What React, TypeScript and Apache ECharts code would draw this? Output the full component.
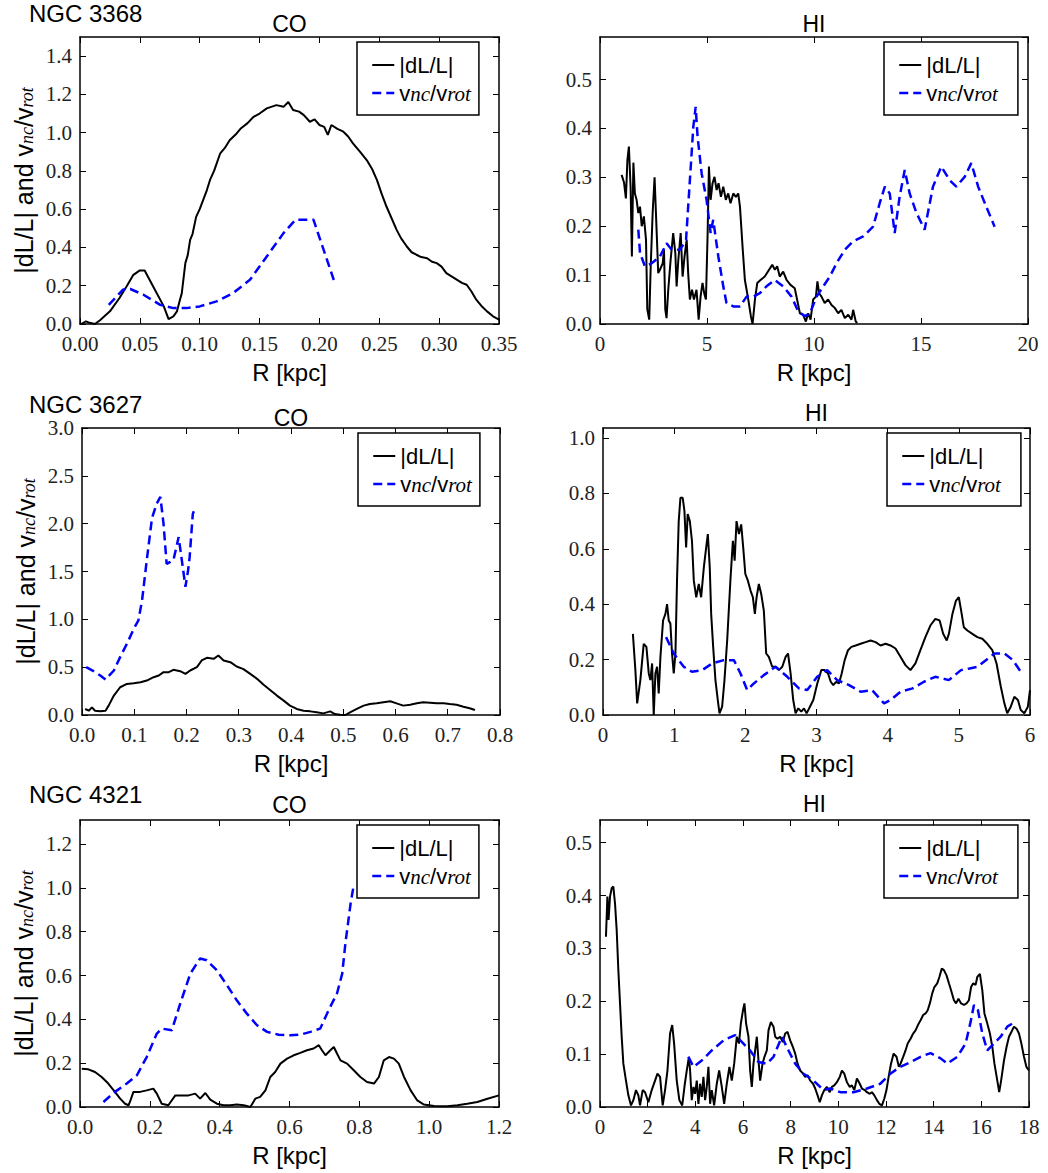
import React, { useEffect, useRef } from "react";
import * as echarts from "echarts";

const SANS = "Liberation Sans";
const SERIF = "Liberation Serif";

const NAME_DL = "|dL/L|";
const NAME_V = "vnc/vrot";

// ---------- NGC 3368, CO ----------
const n3368CoDl: [number, number][] = [
  [0.001, 0], [0.005, 0.014], [0.008, 0.006], [0.0125, 0.0], [0.0167, 0.02], [0.025, 0.066],
  [0.033, 0.136], [0.039, 0.197], [0.0446, 0.257], [0.05, 0.28], [0.054, 0.28], [0.061, 0.197],
  [0.07, 0.092], [0.074, 0.026], [0.078, 0.04], [0.081, 0.066], [0.0835, 0.127], [0.085, 0.16],
  [0.088, 0.318], [0.09, 0.36], [0.092, 0.44], [0.094, 0.47], [0.097, 0.56], [0.1, 0.6], [0.103, 0.65],
  [0.106, 0.7], [0.1086, 0.753], [0.112, 0.8], [0.117, 0.89], [0.121, 0.92], [0.125, 0.96], [0.13, 0.99],
  [0.134, 1.02], [0.14, 1.05], [0.145, 1.083], [0.15, 1.1], [0.156, 1.127], [0.164, 1.144], [0.17, 1.135],
  [0.174, 1.16], [0.178, 1.118], [0.183, 1.11], [0.187, 1.092], [0.192, 1.057], [0.196, 1.07], [0.2, 1.04],
  [0.204, 1.03], [0.207, 0.988], [0.21, 1.04], [0.215, 1.02], [0.22, 1.005], [0.224, 0.98], [0.228, 0.944],
  [0.234, 0.9], [0.2395, 0.857], [0.244, 0.81], [0.248, 0.753], [0.252, 0.68], [0.256, 0.614],
  [0.2645, 0.492], [0.268, 0.45], [0.273, 0.405], [0.277, 0.375], [0.281, 0.362], [0.285, 0.35],
  [0.29, 0.344], [0.294, 0.325], [0.298, 0.318], [0.302, 0.3], [0.306, 0.266], [0.31, 0.25],
  [0.315, 0.231], [0.319, 0.215], [0.323, 0.205], [0.327, 0.17], [0.331, 0.127], [0.336, 0.09],
  [0.34, 0.066], [0.345, 0.04], [0.35, 0.023]
];
const n3368CoV: [number, number][] = [
  [0.024, 0.1], [0.036, 0.18], [0.042, 0.183], [0.053, 0.153], [0.067, 0.1], [0.078, 0.083],
  [0.089, 0.083], [0.1, 0.092], [0.114, 0.118], [0.128, 0.162], [0.142, 0.231], [0.156, 0.353],
  [0.17, 0.475], [0.18, 0.545], [0.195, 0.545], [0.212, 0.23]
];

// ---------- NGC 3368, HI ----------
const n3368HiDl: [number, number][] = [
  [1.01, 0.305], [1.12, 0.29], [1.21, 0.257], [1.28, 0.335], [1.35, 0.363], [1.43, 0.28], [1.49, 0.138],
  [1.56, 0.33], [1.63, 0.267], [1.71, 0.254], [1.79, 0.227], [1.87, 0.24], [1.95, 0.2], [2.05, 0.22],
  [2.15, 0.172], [2.21, 0.03], [2.3, 0.009], [2.37, 0.118], [2.46, 0.227], [2.55, 0.3], [2.65, 0.186],
  [2.72, 0.104], [2.8, 0.111], [2.93, 0.124], [2.99, 0.152], [3.05, 0.03], [3.11, 0.012], [3.19, 0.07],
  [3.3, 0.131], [3.42, 0.186], [3.52, 0.145], [3.58, 0.077], [3.66, 0.131], [3.77, 0.186], [3.86, 0.097],
  [3.95, 0.138], [4.05, 0.172], [4.12, 0.104], [4.2, 0.05], [4.3, 0.07], [4.39, 0.05], [4.51, 0.07],
  [4.61, 0.009], [4.7, 0.056], [4.79, 0.084], [4.87, 0.063], [4.95, 0.05], [5.03, 0.186], [5.09, 0.322],
  [5.17, 0.254], [5.26, 0.288], [5.35, 0.301], [5.45, 0.274], [5.54, 0.288], [5.65, 0.26], [5.76, 0.281],
  [5.88, 0.254], [5.99, 0.267], [6.1, 0.247], [6.23, 0.267], [6.35, 0.26], [6.46, 0.267], [6.54, 0.24],
  [6.66, 0.159], [6.77, 0.09], [6.93, 0.05], [7.05, 0.016], [7.13, 0], [7.24, 0.05], [7.35, 0.084],
  [7.5, 0.09], [7.7, 0.097], [7.9, 0.111], [8.05, 0.121], [8.17, 0.111], [8.28, 0.118], [8.4, 0.097],
  [8.56, 0.107], [8.72, 0.09], [8.9, 0.08], [9.1, 0.073], [9.21, 0.05], [9.34, 0.022], [9.49, 0.019],
  [9.62, 0.005], [9.73, 0.022], [9.84, 0.009], [9.96, 0.05], [10.09, 0.056], [10.16, 0.087],
  [10.24, 0.063], [10.35, 0.056], [10.5, 0.043], [10.66, 0.05], [10.82, 0.039], [10.97, 0.033],
  [11.13, 0.022], [11.28, 0.029], [11.44, 0.012], [11.6, 0.019], [11.75, 0.009], [11.83, 0.029],
  [11.95, 0.005], [12.02, 0.002]
];
const n3368HiV: [number, number][] = [
  [1.79, 0.193], [1.87, 0.145], [2.1, 0.118], [2.41, 0.124], [2.8, 0.138], [3.11, 0.165], [3.35, 0.152],
  [3.74, 0.152], [4.02, 0.172], [4.2, 0.294], [4.36, 0.403], [4.47, 0.444], [4.56, 0.383], [4.75, 0.308],
  [4.98, 0.254], [5.17, 0.186], [5.29, 0.213], [5.53, 0.138], [5.76, 0.077], [5.91, 0.043], [6.23, 0.036],
  [6.54, 0.036], [6.85, 0.056], [7.16, 0.056], [7.47, 0.063], [7.78, 0.077], [8.17, 0.09], [8.56, 0.077],
  [8.95, 0.056], [9.26, 0.026], [9.57, 0.016], [9.81, 0.022], [10.12, 0.056], [10.43, 0.077],
  [10.74, 0.097], [11.05, 0.124], [11.44, 0.152], [11.83, 0.169], [12.3, 0.179], [12.76, 0.199],
  [13.07, 0.247], [13.31, 0.281], [13.54, 0.267], [13.77, 0.186], [14.0, 0.26], [14.24, 0.315],
  [14.47, 0.267], [14.79, 0.227], [15.17, 0.193], [15.56, 0.281], [15.95, 0.322], [16.34, 0.294],
  [16.65, 0.281], [17.04, 0.301], [17.35, 0.329], [17.67, 0.281], [18.05, 0.24], [18.44, 0.199]
];

// ---------- NGC 3627, CO ----------
const n3627CoDl: [number, number][] = [
  [0.006, 0.063], [0.013, 0.045], [0.019, 0.08], [0.025, 0.045], [0.035, 0.038], [0.045, 0.045],
  [0.051, 0.098], [0.061, 0.203], [0.073, 0.29], [0.086, 0.325], [0.099, 0.332], [0.112, 0.343],
  [0.124, 0.36], [0.137, 0.395], [0.147, 0.413], [0.156, 0.448], [0.166, 0.448], [0.175, 0.472],
  [0.188, 0.458], [0.198, 0.43], [0.207, 0.465], [0.22, 0.5], [0.229, 0.57], [0.239, 0.598],
  [0.252, 0.587], [0.261, 0.622], [0.271, 0.57], [0.284, 0.552], [0.296, 0.507], [0.309, 0.479],
  [0.322, 0.43], [0.335, 0.378], [0.347, 0.318], [0.36, 0.262], [0.373, 0.203], [0.386, 0.15],
  [0.398, 0.098], [0.411, 0.063], [0.424, 0.045], [0.437, 0.038], [0.449, 0.028], [0.462, 0.017],
  [0.475, 0.038], [0.484, 0.01], [0.494, 0.003], [0.504, 0], [0.513, 0.028], [0.526, 0.063],
  [0.539, 0.098], [0.551, 0.115], [0.564, 0.122], [0.577, 0.133], [0.59, 0.143], [0.602, 0.122],
  [0.615, 0.098], [0.628, 0.108], [0.641, 0.122], [0.653, 0.133], [0.666, 0.129], [0.679, 0.122],
  [0.692, 0.122], [0.704, 0.115], [0.717, 0.108], [0.73, 0.087], [0.742, 0.07], [0.752, 0.052]
];
const n3627CoV: [number, number][] = [
  [0.008, 0.5], [0.022, 0.458], [0.035, 0.413], [0.045, 0.37], [0.061, 0.465], [0.073, 0.605],
  [0.086, 0.745], [0.099, 0.9], [0.108, 0.99], [0.115, 1.2], [0.124, 1.62], [0.134, 2.06], [0.143, 2.21],
  [0.15, 2.28], [0.156, 2.0], [0.162, 1.58], [0.169, 1.6], [0.175, 1.62], [0.185, 1.86], [0.191, 1.62],
  [0.198, 1.34], [0.203, 1.51], [0.206, 1.65], [0.212, 2.1], [0.214, 2.13]
];

// ---------- NGC 3627, HI ----------
const n3627HiDl: [number, number][] = [
  [0.42, 0.293], [0.455, 0.162], [0.48, 0.042], [0.525, 0.126], [0.572, 0.257], [0.61, 0.246],
  [0.643, 0.15], [0.666, 0.126], [0.69, 0.186], [0.713, 0], [0.736, 0.15], [0.76, 0.174], [0.783, 0.078],
  [0.807, 0.21], [0.844, 0.341], [0.877, 0.365], [0.9, 0.4], [0.924, 0.341], [0.947, 0.33], [0.97, 0.222],
  [0.994, 0.15], [1.018, 0.222], [1.04, 0.485], [1.064, 0.7], [1.088, 0.784], [1.12, 0.784], [1.144, 0.737],
  [1.168, 0.605], [1.19, 0.725], [1.22, 0.7], [1.25, 0.629], [1.276, 0.485], [1.31, 0.425], [1.346, 0.473],
  [1.379, 0.425], [1.417, 0.533], [1.45, 0.605], [1.473, 0.653], [1.5, 0.533], [1.52, 0.365],
  [1.548, 0.246], [1.58, 0.126], [1.613, 0.054], [1.637, 0.006], [1.674, 0.03], [1.707, 0.126],
  [1.745, 0.27], [1.79, 0.485], [1.825, 0.629], [1.85, 0.557], [1.876, 0.7], [1.91, 0.653], [1.942, 0.688],
  [1.97, 0.605], [2.0, 0.509], [2.036, 0.485], [2.073, 0.449], [2.106, 0.425], [2.134, 0.365],
  [2.158, 0.425], [2.19, 0.473], [2.223, 0.437], [2.26, 0.377], [2.293, 0.222], [2.33, 0.21],
  [2.378, 0.174], [2.425, 0.174], [2.472, 0.162], [2.519, 0.174], [2.566, 0.21], [2.6, 0.222],
  [2.636, 0.15], [2.673, 0.054], [2.706, 0.006], [2.744, 0.024], [2.786, 0.012], [2.824, 0.024],
  [2.861, 0.006], [2.908, 0.03], [2.955, 0.054], [3.011, 0.114], [3.068, 0.162], [3.115, 0.162],
  [3.162, 0.15], [3.2, 0.12], [3.236, 0.108], [3.274, 0.12], [3.316, 0.114], [3.354, 0.15],
  [3.396, 0.198], [3.443, 0.234], [3.49, 0.246], [3.55, 0.251], [3.62, 0.257], [3.69, 0.263],
  [3.76, 0.269], [3.83, 0.263], [3.9, 0.251], [3.97, 0.257], [4.04, 0.251], [4.11, 0.24], [4.18, 0.21],
  [4.25, 0.18], [4.32, 0.162], [4.39, 0.186], [4.46, 0.234], [4.53, 0.281], [4.6, 0.323], [4.67, 0.347],
  [4.73, 0.341], [4.78, 0.293], [4.83, 0.269], [4.86, 0.293], [4.91, 0.365], [4.96, 0.413], [5.0, 0.425],
  [5.04, 0.365], [5.07, 0.317], [5.12, 0.305], [5.19, 0.293], [5.26, 0.281], [5.33, 0.275], [5.4, 0.257],
  [5.47, 0.234], [5.53, 0.186], [5.59, 0.102], [5.64, 0.042], [5.68, 0.006], [5.73, 0.03], [5.78, 0.066],
  [5.83, 0.054], [5.87, 0.018], [5.92, 0.006], [5.97, 0.03], [6.0, 0.09]
];
const n3627HiV: [number, number][] = [
  [0.886, 0.281], [0.994, 0.222], [1.135, 0.174], [1.25, 0.156], [1.393, 0.162], [1.534, 0.186],
  [1.698, 0.198], [1.839, 0.198], [1.932, 0.15], [2.026, 0.09], [2.12, 0.114], [2.26, 0.144],
  [2.425, 0.174], [2.59, 0.138], [2.753, 0.096], [2.87, 0.09], [3.01, 0.138], [3.15, 0.162], [3.29, 0.126],
  [3.457, 0.108], [3.62, 0.084], [3.78, 0.09], [3.95, 0.042], [4.04, 0.054], [4.18, 0.084], [4.35, 0.096],
  [4.51, 0.12], [4.67, 0.138], [4.86, 0.126], [5.03, 0.162], [5.15, 0.168], [5.26, 0.174], [5.38, 0.198],
  [5.5, 0.222], [5.64, 0.222], [5.76, 0.198], [5.87, 0.156]
];

// ---------- NGC 4321, CO ----------
const n4321CoDl: [number, number][] = [
  [0.005, 0.175], [0.024, 0.172], [0.043, 0.16], [0.062, 0.137], [0.081, 0.107], [0.1, 0.069],
  [0.115, 0.038], [0.129, 0.015], [0.139, 0.008], [0.143, 0.023], [0.153, 0.069], [0.172, 0.069],
  [0.191, 0.076], [0.21, 0.084], [0.22, 0.061], [0.234, 0.015], [0.253, 0.008], [0.273, 0.053],
  [0.292, 0.053], [0.311, 0.053], [0.33, 0.061], [0.344, 0.038], [0.359, 0.064], [0.373, 0.034],
  [0.392, 0.015], [0.411, 0.008], [0.43, 0.008], [0.449, 0.011], [0.469, 0.008], [0.488, 0],
  [0.502, 0.038], [0.516, 0.046], [0.531, 0.076], [0.545, 0.137], [0.559, 0.16], [0.574, 0.198],
  [0.593, 0.221], [0.612, 0.236], [0.631, 0.247], [0.65, 0.259], [0.669, 0.267], [0.684, 0.282],
  [0.693, 0.259], [0.703, 0.236], [0.717, 0.259], [0.727, 0.274], [0.736, 0.244], [0.746, 0.213],
  [0.765, 0.198], [0.784, 0.168], [0.803, 0.137], [0.822, 0.114], [0.842, 0.107], [0.856, 0.137],
  [0.87, 0.213], [0.885, 0.228], [0.899, 0.221], [0.913, 0.198], [0.928, 0.137], [0.947, 0.076],
  [0.966, 0.03], [0.985, 0.011], [1.014, 0.005], [1.052, 0.003], [1.081, 0.008], [1.109, 0.015],
  [1.138, 0.023], [1.167, 0.038], [1.2, 0.053]
];
const n4321CoV: [number, number][] = [
  [0.067, 0.023], [0.1, 0.069], [0.134, 0.107], [0.163, 0.145], [0.191, 0.228], [0.22, 0.335],
  [0.234, 0.358], [0.263, 0.35], [0.287, 0.472], [0.316, 0.609], [0.344, 0.678], [0.363, 0.67],
  [0.392, 0.624], [0.421, 0.556], [0.449, 0.487], [0.478, 0.426], [0.507, 0.373], [0.536, 0.343],
  [0.569, 0.33], [0.602, 0.327], [0.631, 0.33], [0.66, 0.343], [0.688, 0.358], [0.712, 0.442],
  [0.736, 0.518], [0.751, 0.609], [0.76, 0.746], [0.775, 0.929], [0.784, 1.013]
];

// ---------- NGC 4321, HI ----------
const n4321HiDl: [number, number][] = [
  [0.25, 0.322], [0.31, 0.398], [0.36, 0.354], [0.42, 0.398], [0.49, 0.414], [0.56, 0.417], [0.63, 0.385],
  [0.7, 0.335], [0.77, 0.259], [0.84, 0.196], [0.91, 0.133], [0.98, 0.082], [1.09, 0.05], [1.19, 0.022],
  [1.3, 0.003], [1.4, 0.013], [1.51, 0.032], [1.61, 0.022], [1.68, 0.003], [1.79, 0.032], [1.89, 0.028],
  [2.03, 0.009], [2.17, 0.032], [2.31, 0.05], [2.41, 0.063], [2.52, 0.057], [2.63, 0.003], [2.73, 0.032],
  [2.83, 0.069], [2.94, 0.139], [3.03, 0.155], [3.11, 0.12], [3.22, 0.05], [3.33, 0.013], [3.45, 0.003],
  [3.56, 0.044], [3.64, 0.069], [3.73, 0.095], [3.78, 0.069], [3.85, 0.013], [3.92, 0.038], [3.99, 0.025],
  [4.06, 0.05], [4.13, 0.006], [4.2, 0.044], [4.27, 0.019], [4.34, 0.057], [4.41, 0.013], [4.48, 0.038],
  [4.55, 0.076], [4.62, 0.006], [4.69, 0.032], [4.79, 0.003], [4.9, 0.044], [5.0, 0.069], [5.11, 0.038],
  [5.21, 0.006], [5.32, 0.044], [5.43, 0.076], [5.53, 0.05], [5.63, 0.082], [5.74, 0.133], [5.83, 0.12],
  [5.91, 0.158], [6.0, 0.183], [6.06, 0.196], [6.13, 0.158], [6.23, 0.133], [6.3, 0.069], [6.37, 0.038],
  [6.44, 0.082], [6.51, 0.107], [6.58, 0.133], [6.65, 0.088], [6.72, 0.05], [6.82, 0.082], [6.9, 0.095],
  [7.0, 0.107], [7.07, 0.145], [7.17, 0.161], [7.28, 0.152], [7.35, 0.133], [7.45, 0.129], [7.56, 0.133],
  [7.67, 0.123], [7.77, 0.139], [7.87, 0.142], [7.98, 0.126], [8.09, 0.114], [8.19, 0.101], [8.29, 0.082],
  [8.4, 0.069], [8.52, 0.063], [8.61, 0.057], [8.71, 0.06], [8.82, 0.05], [8.94, 0.044], [9.03, 0.035],
  [9.13, 0.022], [9.22, 0.009], [9.31, 0.022], [9.41, 0.032], [9.52, 0.038], [9.64, 0.028], [9.73, 0.038],
  [9.83, 0.041], [9.94, 0.047], [10.06, 0.057], [10.15, 0.069], [10.25, 0.063], [10.36, 0.047],
  [10.48, 0.038], [10.57, 0.041], [10.67, 0.032], [10.78, 0.054], [10.9, 0.044], [10.99, 0.035],
  [11.11, 0.032], [11.2, 0.028], [11.32, 0.025], [11.41, 0.028], [11.51, 0.022], [11.62, 0.013],
  [11.72, 0.006], [11.83, 0.003], [11.93, 0.016], [12.02, 0.032], [12.11, 0.057], [12.21, 0.082],
  [12.32, 0.101], [12.44, 0.095], [12.54, 0.076], [12.61, 0.082], [12.72, 0.095], [12.82, 0.107],
  [12.91, 0.12], [13.03, 0.129], [13.14, 0.139], [13.24, 0.145], [13.34, 0.155], [13.45, 0.164],
  [13.56, 0.174], [13.66, 0.177], [13.75, 0.183], [13.84, 0.196], [13.94, 0.215], [14.03, 0.227],
  [14.15, 0.234], [14.24, 0.246], [14.34, 0.262], [14.43, 0.259], [14.54, 0.249], [14.64, 0.234],
  [14.73, 0.221], [14.85, 0.202], [14.94, 0.196], [15.04, 0.205], [15.15, 0.196], [15.27, 0.193],
  [15.38, 0.196], [15.48, 0.202], [15.57, 0.227], [15.66, 0.234], [15.76, 0.231], [15.83, 0.246],
  [15.94, 0.252], [16.04, 0.221], [16.13, 0.177], [16.25, 0.158], [16.36, 0.139], [16.46, 0.114],
  [16.55, 0.082], [16.67, 0.05], [16.75, 0.028], [16.83, 0.05], [16.95, 0.088], [17.06, 0.114],
  [17.16, 0.133], [17.26, 0.142], [17.37, 0.152], [17.48, 0.148], [17.58, 0.139], [17.68, 0.12],
  [17.79, 0.095], [17.89, 0.076], [18.0, 0.069]
];
const n4321HiV: [number, number][] = [
  [3.71, 0.095], [3.92, 0.076], [4.27, 0.088], [4.69, 0.107], [5.18, 0.126], [5.67, 0.136], [5.95, 0.123],
  [6.3, 0.107], [6.65, 0.085], [7.0, 0.082], [7.28, 0.095], [7.63, 0.133], [7.91, 0.107], [8.19, 0.082],
  [8.54, 0.063], [8.96, 0.05], [9.38, 0.032], [9.66, 0.035], [10.08, 0.028], [10.64, 0.028], [11.2, 0.035],
  [11.76, 0.044], [12.18, 0.063], [12.6, 0.076], [13.03, 0.085], [13.45, 0.095], [13.87, 0.102],
  [14.29, 0.092], [14.57, 0.082], [14.99, 0.095], [15.34, 0.12], [15.55, 0.161], [15.69, 0.193],
  [15.86, 0.183], [16.04, 0.139], [16.25, 0.107], [16.53, 0.12], [16.81, 0.133], [17.09, 0.152],
  [17.3, 0.158]
];

// axis settings per panel
const galaxyNames = ["NGC 3368", "NGC 3627", "NGC 4321"];
const tracerNames = ["CO", "HI"];
const xMaxes = [0.35, 20, 0.8, 6, 1.2, 18];
const xSteps = [0.05, 5, 0.1, 1, 0.2, 2];
const xDecimals = [2, 0, 1, 0, 1, 0];
const yMaxes = [1.5, 0.587, 3.0, 1.036, 1.31, 0.543];
const ySteps = [0.2, 0.1, 0.5, 0.2, 0.2, 0.1];
const dlSeries = [n3368CoDl, n3368HiDl, n3627CoDl, n3627HiDl, n4321CoDl, n4321HiDl];
const vSeries = [n3368CoV, n3368HiV, n3627CoV, n3627HiV, n4321CoV, n4321HiV];

// layout (pixels)
const grids = [
  { left: 80, top: 37, width: 419, height: 287 },
  { left: 600, top: 37, width: 428, height: 287 },
  { left: 82, top: 428, width: 418, height: 287 },
  { left: 603, top: 428, width: 427, height: 287 },
  { left: 80, top: 820, width: 419, height: 287 },
  { left: 600, top: 820, width: 429, height: 287 }
];
const legendPos = [
  { left: 357, top: 42 },
  { left: 884, top: 42 },
  { left: 358, top: 433 },
  { left: 887, top: 433 },
  { left: 357, top: 825 },
  { left: 884, top: 825 }
];
const galaxyTitlePos = [{ x: 29, y: 13 }, { x: 29, y: 404 }, { x: 29, y: 794 }];
const tracerTitleY = [24, 24, 418, 413, 805, 804];

function buildOption() {
  const xAxis: any[] = [];
  const yAxis: any[] = [];
  const series: any[] = [];
  const legend: any[] = [];
  const graphic: any[] = [];

  const axisLine = { show: true, onZero: false, lineStyle: { color: "#000", width: 1.5 } };
  const axisTick = { show: true, inside: true, length: 6, lineStyle: { color: "#000", width: 1 } };

  grids.forEach((g, i) => {
    const dec = xDecimals[i];
    const common = { type: "value", gridIndex: i, splitLine: { show: false }, axisLine, axisTick };
    xAxis.push({
      ...common,
      position: "bottom",
      min: 0,
      max: xMaxes[i],
      interval: xSteps[i],
      axisLabel: {
        fontFamily: SERIF, fontSize: 21, color: "#222", margin: 9,
        formatter: (v: number) => v.toFixed(dec)
      },
      name: "R [kpc]",
      nameLocation: "middle",
      nameGap: 36,
      nameTextStyle: { fontFamily: SANS, fontSize: 24, color: "#000" }
    });
    xAxis.push({
      ...common,
      position: "top",
      min: 0,
      max: xMaxes[i],
      interval: xSteps[i],
      axisLabel: { show: false }
    });
    const yLeft: any = {
      ...common,
      position: "left",
      min: 0,
      max: yMaxes[i],
      interval: ySteps[i],
      axisLabel: {
        fontFamily: SERIF, fontSize: 21, color: "#222", margin: 8,
        showMaxLabel: i === 2,
        formatter: (v: number) => v.toFixed(1)
      }
    };
    if (i % 2 === 0) {
      yLeft.name = "|dL/L| and v{s|nc}/v{s|rot}";
      yLeft.nameLocation = "middle";
      yLeft.nameRotate = 90;
      yLeft.nameGap = 44;
      yLeft.nameTextStyle = {
        fontFamily: SANS, fontSize: 25, color: "#000",
        rich: { s: { fontFamily: SERIF, fontStyle: "italic", fontSize: 18, color: "#000", verticalAlign: "bottom" } }
      };
    }
    yAxis.push(yLeft);
    yAxis.push({
      ...common,
      position: "right",
      min: 0,
      max: yMaxes[i],
      interval: ySteps[i],
      axisLabel: { show: false }
    });

    series.push({
      type: "line",
      name: NAME_DL,
      xAxisIndex: 2 * i,
      yAxisIndex: 2 * i,
      data: dlSeries[i],
      symbol: "none",
      showSymbol: false,
      lineStyle: { color: "#000", width: 2, type: "solid" },
      itemStyle: { color: "#000" },
      z: 2
    });
    series.push({
      type: "line",
      name: NAME_V,
      xAxisIndex: 2 * i,
      yAxisIndex: 2 * i,
      data: vSeries[i],
      symbol: "none",
      showSymbol: false,
      lineStyle: { color: "#0000ff", width: 2.5, type: [9, 5] },
      itemStyle: { color: "#0000ff" },
      z: 3
    });

    const isHI = i % 2 === 1;
    legend.push({
      data: [NAME_DL, NAME_V],
      orient: "vertical",
      left: legendPos[i].left,
      top: legendPos[i].top,
      backgroundColor: "#fff",
      borderColor: "#000",
      borderWidth: 1.5,
      borderRadius: 0,
      padding: [12, isHI ? 20 : 8, 11, 14],
      itemGap: 6,
      itemWidth: 22,
      itemHeight: 14,
      selectedMode: false,
      itemStyle: { opacity: 0 },
      lineStyle: { width: "inherit" },
      textStyle: {
        fontFamily: SANS, fontSize: 22, color: "#000",
        rich: { s: { fontFamily: SERIF, fontStyle: "italic", fontSize: 21, color: "#000", verticalAlign: "bottom" } }
      },
      formatter: (name: string) => (name === NAME_DL ? "|dL/L|" : "v{s|nc}/v{s|rot}"),
      z: 10
    });

    graphic.push({
      type: "text",
      x: g.left + g.width / 2,
      y: tracerTitleY[i],
      style: {
        text: tracerNames[i % 2],
        fontFamily: SANS, fontSize: 23, fill: "#000",
        align: "center", verticalAlign: "middle"
      }
    });
  });

  galaxyNames.forEach((name, r) => {
    graphic.push({
      type: "text",
      x: galaxyTitlePos[r].x,
      y: galaxyTitlePos[r].y,
      style: {
        text: name,
        fontFamily: SANS, fontSize: 24, fill: "#000",
        align: "left", verticalAlign: "middle"
      }
    });
  });

  return {
    animation: false,
    backgroundColor: "#fff",
    grid: grids.map((g) => ({ ...g, containLabel: false })),
    xAxis,
    yAxis,
    series,
    legend,
    graphic
  };
}

export default function App() {
  const ref = useRef<HTMLDivElement>(null);
  useEffect(() => {
    if (!ref.current) return;
    const chart = echarts.init(ref.current, undefined, { renderer: "svg" });
    chart.setOption(buildOption() as any);
    return () => chart.dispose();
  }, []);
  return (
    <div
      ref={ref}
      style={{ position: "absolute", left: 0, top: 0, width: 1048, height: 1173, background: "#fff" }}
    />
  );
}
